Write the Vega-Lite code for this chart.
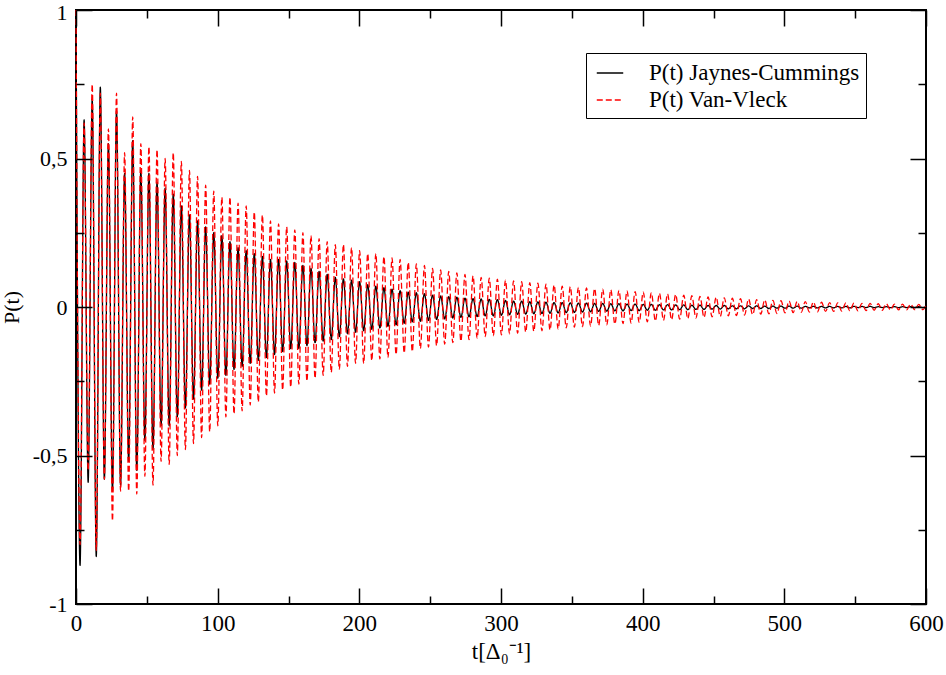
{
  "$schema": "https://vega.github.io/schema/vega-lite/v6.json",
  "width": 850,
  "height": 594,
  "autosize": {"type": "none"},
  "padding": {"left": 76, "top": 10, "right": 20, "bottom": 71},
  "background": "white",
  "config": {
    "view": {"stroke": "black", "strokeWidth": 2},
    "font": "Liberation Serif",
    "axis": {"labelFont": "Liberation Serif", "titleFont": "Liberation Serif", "labelColor": "black", "titleColor": "black", "titleFontWeight": "normal", "grid": false, "tickColor": "black", "tickWidth": 1.5}
  },
  "resolve": {"axis": {"x": "independent", "y": "independent"}},
  "layer": [
    {
      "data": {"values": [
{"t":0,"j":1,"v":1},{"t":2.86,"j":-0.87,"v":-0.8},{"t":5.72,"j":0.63,"v":0.62},{"t":8.58,"j":-0.59,"v":-0.55},
{"t":11.44,"j":0.7,"v":0.75},{"t":14.3,"j":-0.84,"v":-0.82},{"t":17.16,"j":0.74,"v":0.72},{"t":20.02,"j":-0.58,"v":-0.58},
{"t":22.88,"j":0.55,"v":0.6},{"t":25.74,"j":-0.62,"v":-0.72},{"t":28.6,"j":0.66,"v":0.72},{"t":31.46,"j":-0.6,"v":-0.62},
{"t":34.32,"j":0.45,"v":0.52},{"t":37.18,"j":-0.52,"v":-0.62},{"t":40.04,"j":0.56,"v":0.64},{"t":42.9,"j":-0.55,"v":-0.63},
{"t":45.76,"j":0.46,"v":0.55},{"t":48.62,"j":-0.45,"v":-0.57},{"t":51.48,"j":0.45,"v":0.54},{"t":54.34,"j":-0.48,"v":-0.6},
{"t":57.2,"j":0.42,"v":0.53},{"t":60.06,"j":-0.4,"v":-0.52},{"t":62.92,"j":0.4,"v":0.5},{"t":65.78,"j":-0.4,"v":-0.53},
{"t":68.64,"j":0.38,"v":0.52},{"t":71.5,"j":-0.37,"v":-0.5},{"t":74.36,"j":0.34,"v":0.49},{"t":77.22,"j":-0.34,"v":-0.48},
{"t":80.08,"j":0.31,"v":0.46},{"t":82.94,"j":-0.31,"v":-0.46},{"t":85.8,"j":0.29,"v":0.44},{"t":88.66,"j":-0.28,"v":-0.44},
{"t":91.52,"j":0.27,"v":0.41},{"t":94.38,"j":-0.26,"v":-0.42},{"t":97.24,"j":0.25,"v":0.39},{"t":100.1,"j":-0.24,"v":-0.4},
{"t":102.96,"j":0.24,"v":0.37},{"t":105.82,"j":-0.23,"v":-0.37},{"t":108.68,"j":0.22,"v":0.37},{"t":111.54,"j":-0.21,"v":-0.36},
{"t":114.4,"j":0.2,"v":0.35},{"t":117.26,"j":-0.2,"v":-0.35},{"t":120.12,"j":0.19,"v":0.34},{"t":122.98,"j":-0.19,"v":-0.33},
{"t":125.84,"j":0.18,"v":0.32},{"t":128.7,"j":-0.18,"v":-0.32},{"t":131.56,"j":0.17,"v":0.31},{"t":134.42,"j":-0.17,"v":-0.3},
{"t":137.28,"j":0.16,"v":0.29},{"t":140.14,"j":-0.16,"v":-0.29},{"t":143,"j":0.16,"v":0.28},{"t":145.86,"j":-0.15,"v":-0.28},
{"t":148.72,"j":0.155,"v":0.27},{"t":151.58,"j":-0.14,"v":-0.27},{"t":154.44,"j":0.15,"v":0.26},{"t":157.3,"j":-0.14,"v":-0.26},
{"t":160.16,"j":0.14,"v":0.25},{"t":163.02,"j":-0.13,"v":-0.25},{"t":165.88,"j":0.13,"v":0.24},{"t":168.74,"j":-0.12,"v":-0.24},
{"t":171.6,"j":0.12,"v":0.23},{"t":174.46,"j":-0.115,"v":-0.23},{"t":177.32,"j":0.11,"v":0.22},{"t":180.18,"j":-0.11,"v":-0.22},
{"t":183.04,"j":0.1,"v":0.21},{"t":185.9,"j":-0.1,"v":-0.21},{"t":188.76,"j":0.095,"v":0.21},{"t":191.62,"j":-0.09,"v":-0.2},
{"t":194.48,"j":0.09,"v":0.2},{"t":197.34,"j":-0.085,"v":-0.19},{"t":200.2,"j":0.085,"v":0.19},{"t":203.06,"j":-0.08,"v":-0.19},
{"t":205.92,"j":0.075,"v":0.18},{"t":208.78,"j":-0.075,"v":-0.18},{"t":211.64,"j":0.07,"v":0.18},{"t":214.5,"j":-0.07,"v":-0.175},
{"t":217.36,"j":0.065,"v":0.17},{"t":220.22,"j":-0.065,"v":-0.17},{"t":223.08,"j":0.06,"v":0.165},{"t":225.94,"j":-0.06,"v":-0.16},
{"t":228.8,"j":0.055,"v":0.16},{"t":231.66,"j":-0.055,"v":-0.155},{"t":234.52,"j":0.05,"v":0.15},{"t":237.38,"j":-0.05,"v":-0.15},
{"t":240.24,"j":0.048,"v":0.145},{"t":243.1,"j":-0.048,"v":-0.14},{"t":245.96,"j":0.045,"v":0.14},{"t":248.82,"j":-0.045,"v":-0.135},
{"t":251.68,"j":0.04,"v":0.13},{"t":254.54,"j":-0.042,"v":-0.13},{"t":257.4,"j":0.037,"v":0.125},{"t":260.26,"j":-0.04,"v":-0.125},
{"t":263.12,"j":0.035,"v":0.12},{"t":265.98,"j":-0.037,"v":-0.12},{"t":268.84,"j":0.033,"v":0.115},{"t":271.7,"j":-0.035,"v":-0.115},
{"t":274.56,"j":0.03,"v":0.11},{"t":277.42,"j":-0.033,"v":-0.11},{"t":280.28,"j":0.028,"v":0.105},{"t":283.14,"j":-0.032,"v":-0.105},
{"t":286,"j":0.027,"v":0.1},{"t":288.86,"j":-0.03,"v":-0.1},{"t":291.72,"j":0.026,"v":0.097},{"t":294.58,"j":-0.03,"v":-0.097},
{"t":297.44,"j":0.025,"v":0.094},{"t":300.3,"j":-0.028,"v":-0.094},{"t":303.16,"j":0.022,"v":0.09},{"t":306.02,"j":-0.026,"v":-0.09},
{"t":308.88,"j":0.02,"v":0.088},{"t":311.74,"j":-0.025,"v":-0.088},{"t":314.6,"j":0.02,"v":0.085},{"t":317.46,"j":-0.024,"v":-0.085},
{"t":320.32,"j":0.018,"v":0.082},{"t":323.18,"j":-0.023,"v":-0.082},{"t":326.04,"j":0.017,"v":0.08},{"t":328.9,"j":-0.022,"v":-0.08},
{"t":331.76,"j":0.016,"v":0.077},{"t":334.62,"j":-0.021,"v":-0.077},{"t":337.48,"j":0.015,"v":0.074},{"t":340.34,"j":-0.02,"v":-0.074},
{"t":343.2,"j":0.015,"v":0.07},{"t":346.06,"j":-0.019,"v":-0.07},{"t":348.92,"j":0.014,"v":0.068},{"t":351.78,"j":-0.018,"v":-0.068},
{"t":354.64,"j":0.013,"v":0.066},{"t":357.5,"j":-0.017,"v":-0.066},{"t":360.36,"j":0.013,"v":0.064},{"t":363.22,"j":-0.016,"v":-0.064},
{"t":366.08,"j":0.012,"v":0.062},{"t":368.94,"j":-0.015,"v":-0.062},{"t":371.8,"j":0.012,"v":0.06},{"t":374.66,"j":-0.014,"v":-0.06},
{"t":377.52,"j":0.011,"v":0.058},{"t":380.38,"j":-0.013,"v":-0.058},{"t":383.24,"j":0.011,"v":0.056},{"t":386.1,"j":-0.013,"v":-0.056},
{"t":388.96,"j":0.01,"v":0.054},{"t":391.82,"j":-0.012,"v":-0.054},{"t":394.68,"j":0.01,"v":0.052},{"t":397.54,"j":-0.012,"v":-0.052},
{"t":400.4,"j":0.009,"v":0.05},{"t":403.26,"j":-0.011,"v":-0.05},{"t":406.12,"j":0.009,"v":0.048},{"t":408.98,"j":-0.011,"v":-0.047},
{"t":411.84,"j":0.008,"v":0.046},{"t":414.7,"j":-0.01,"v":-0.045},{"t":417.56,"j":0.008,"v":0.044},{"t":420.42,"j":-0.01,"v":-0.043},
{"t":423.28,"j":0.007,"v":0.042},{"t":426.14,"j":-0.009,"v":-0.041},{"t":429,"j":0.007,"v":0.04},{"t":431.86,"j":-0.009,"v":-0.039},
{"t":434.72,"j":0.006,"v":0.038},{"t":437.58,"j":-0.008,"v":-0.037},{"t":440.44,"j":0.006,"v":0.036},{"t":443.3,"j":-0.008,"v":-0.035},
{"t":446.16,"j":0.005,"v":0.034},{"t":449.02,"j":-0.007,"v":-0.033},{"t":451.88,"j":0.005,"v":0.033},{"t":454.74,"j":-0.007,"v":-0.032},
{"t":457.6,"j":0.005,"v":0.031},{"t":460.46,"j":-0.006,"v":-0.03},{"t":463.32,"j":0.004,"v":0.03},{"t":466.18,"j":-0.006,"v":-0.029},
{"t":469.04,"j":0.004,"v":0.028},{"t":471.9,"j":-0.006,"v":-0.027},{"t":474.76,"j":0.004,"v":0.027},{"t":477.62,"j":-0.005,"v":-0.026},
{"t":480.48,"j":0.004,"v":0.025},{"t":483.34,"j":-0.005,"v":-0.024},{"t":486.2,"j":0.003,"v":0.024},{"t":489.06,"j":-0.005,"v":-0.023},
{"t":491.92,"j":0.003,"v":0.022},{"t":494.78,"j":-0.004,"v":-0.022},{"t":497.64,"j":0.003,"v":0.021},{"t":500.5,"j":-0.004,"v":-0.02},
{"t":503.36,"j":0.003,"v":0.02},{"t":506.22,"j":-0.004,"v":-0.019},{"t":509.08,"j":0.003,"v":0.019},{"t":511.94,"j":-0.004,"v":-0.018},
{"t":514.8,"j":0.002,"v":0.018},{"t":517.66,"j":-0.003,"v":-0.017},{"t":520.52,"j":0.002,"v":0.017},{"t":523.38,"j":-0.003,"v":-0.016},
{"t":526.24,"j":0.002,"v":0.016},{"t":529.1,"j":-0.003,"v":-0.015},{"t":531.96,"j":0.002,"v":0.015},{"t":534.82,"j":-0.003,"v":-0.015},
{"t":537.68,"j":0.002,"v":0.014},{"t":540.54,"j":-0.003,"v":-0.014},{"t":543.4,"j":0.002,"v":0.014},{"t":546.26,"j":-0.003,"v":-0.013},
{"t":549.12,"j":0.002,"v":0.013},{"t":551.98,"j":-0.002,"v":-0.013},{"t":554.84,"j":0.002,"v":0.012},{"t":557.7,"j":-0.002,"v":-0.012},
{"t":560.56,"j":0.002,"v":0.012},{"t":563.42,"j":-0.002,"v":-0.011},{"t":566.28,"j":0.001,"v":0.011},{"t":569.14,"j":-0.002,"v":-0.011},
{"t":572,"j":0.001,"v":0.011},{"t":574.86,"j":-0.002,"v":-0.01},{"t":577.72,"j":0.001,"v":0.01},{"t":580.58,"j":-0.002,"v":-0.01},
{"t":583.44,"j":0.001,"v":0.01},{"t":586.3,"j":-0.002,"v":-0.01},{"t":589.16,"j":0.001,"v":0.01},{"t":592.02,"j":-0.002,"v":-0.009},
{"t":594.88,"j":0.001,"v":0.009},{"t":597.74,"j":-0.002,"v":-0.009},{"t":600,"j":0,"v":0.006}
      ]},
      "transform": [{"fold": ["j", "v"], "as": ["s", "p"]}],
      "mark": {"type": "line", "interpolate": "monotone", "strokeWidth": 1.3},
      "encoding": {
        "x": {"field": "t", "type": "quantitative", "scale": {"domain": [0, 600], "nice": false, "zero": false},
          "axis": {"orient": "bottom", "values": [0, 100, 200, 300, 400, 500, 600], "ticks": false, "domain": false, "labelFlush": false, "labelPadding": 8, "labelFontSize": 23, "title": "t[Δ₀⁻¹]", "titleFontSize": 23, "titlePadding": 5}},
        "y": {"field": "p", "type": "quantitative", "scale": {"domain": [-1, 1], "nice": false, "zero": false},
          "axis": {"orient": "left", "values": [-1, -0.5, 0, 0.5, 1], "ticks": false, "domain": false, "labelFlush": false, "labelPadding": 9, "labelFontSize": 22, "labelOffset": {"condition": {"test": "datum.value == 1", "value": 2}, "value": 0}, "labelExpr": "replace(toString(datum.value), '.', ',')", "title": "P(t)", "titleFontSize": 22, "titlePadding": 9}},
        "color": {"field": "s", "type": "nominal", "scale": {"domain": ["j", "v"], "range": ["black", "red"]},
          "legend": {"title": null, "orient": "none", "legendX": 510, "legendY": 43, "symbolType": "stroke", "symbolSize": 700, "symbolStrokeWidth": 1.5, "symbolOffset": 4, "labelFont": "Liberation Serif", "labelFontSize": 23, "labelColor": "black", "labelLimit": 0, "labelOffset": 25, "rowPadding": 1, "padding": 6, "strokeColor": "black", "fillColor": "white", "labelExpr": "datum.value == 'j' ? 'P(t) Jaynes-Cummings' : 'P(t) Van-Vleck'"}},
        "strokeDash": {"field": "s", "type": "nominal", "scale": {"domain": ["j", "v"], "range": [[1, 0], [6, 3]]},
          "legend": {"title": null, "orient": "none", "legendX": 510, "legendY": 43, "symbolType": "stroke", "symbolSize": 700, "symbolStrokeWidth": 1.5, "symbolOffset": 4, "labelFont": "Liberation Serif", "labelFontSize": 23, "labelColor": "black", "labelLimit": 0, "labelOffset": 25, "rowPadding": 1, "padding": 6, "strokeColor": "black", "fillColor": "white", "labelExpr": "datum.value == 'j' ? 'P(t) Jaynes-Cummings' : 'P(t) Van-Vleck'"}}
      }
    },
    {
      "data": {"values": [{"t": 0, "p": 0}]},
      "mark": {"type": "point", "opacity": 0},
      "encoding": {
        "x": {"field": "t", "type": "quantitative", "axis": {"orient": "bottom", "values": [0, 100, 200, 300, 400, 500, 600], "tickSize": -16, "labels": false, "domain": false, "title": null, "zindex": 1}},
        "y": {"field": "p", "type": "quantitative", "axis": {"orient": "left", "values": [-1, -0.5, 0, 0.5, 1], "tickSize": -16, "labels": false, "domain": false, "title": null, "zindex": 1}}
      }
    },
    {
      "data": {"values": [{"t": 0, "p": 0}]},
      "mark": {"type": "point", "opacity": 0},
      "encoding": {
        "x": {"field": "t", "type": "quantitative", "axis": {"orient": "top", "values": [0, 100, 200, 300, 400, 500, 600], "tickSize": -16, "labels": false, "domain": false, "title": null, "zindex": 1}},
        "y": {"field": "p", "type": "quantitative", "axis": {"orient": "right", "values": [-1, -0.5, 0, 0.5, 1], "tickSize": -16, "labels": false, "domain": false, "title": null, "zindex": 1}}
      }
    },
    {
      "data": {"values": [{"t": 0, "p": 0}]},
      "mark": {"type": "point", "opacity": 0},
      "encoding": {
        "x": {"field": "t", "type": "quantitative", "axis": {"orient": "bottom", "values": [50, 150, 250, 350, 450, 550], "tickSize": -8, "labels": false, "domain": false, "title": null, "zindex": 1}},
        "y": {"field": "p", "type": "quantitative", "axis": {"orient": "left", "values": [-0.75, -0.25, 0.25, 0.75], "tickSize": -8, "labels": false, "domain": false, "title": null, "zindex": 1}}
      }
    },
    {
      "data": {"values": [{"t": 0, "p": 0}]},
      "mark": {"type": "point", "opacity": 0},
      "encoding": {
        "x": {"field": "t", "type": "quantitative", "axis": {"orient": "top", "values": [50, 150, 250, 350, 450, 550], "tickSize": -8, "labels": false, "domain": false, "title": null, "zindex": 1}},
        "y": {"field": "p", "type": "quantitative", "axis": {"orient": "right", "values": [-0.75, -0.25, 0.25, 0.75], "tickSize": -8, "labels": false, "domain": false, "title": null, "zindex": 1}}
      }
    }
  ]
}
